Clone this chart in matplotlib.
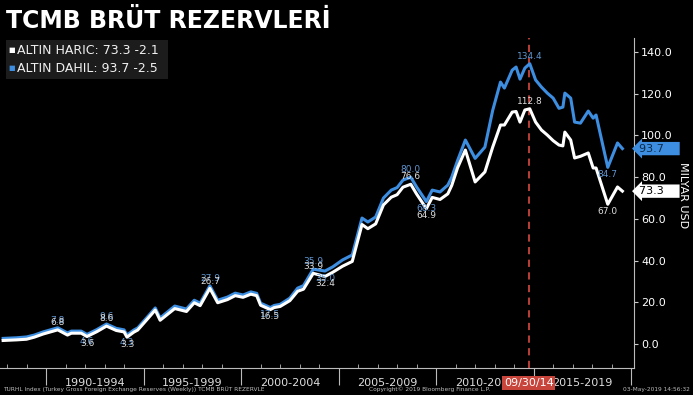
import matplotlib.pyplot as plt
from matplotlib.patches import Rectangle

# Veriler (milyar USD)
years = [1987.8, 1988.5, 1989.0, 1989.4, 1989.85, 1990.6, 1991.1, 1991.3, 1991.8, 1992.1,
         1992.6, 1993.1, 1993.6, 1994.0, 1994.15, 1994.5, 1994.7, 1995.2, 1995.6, 1995.85,
         1996.6, 1997.2, 1997.6, 1997.9, 1998.4, 1998.8, 1999.3, 1999.7, 2000.1, 2000.5,
         2000.8, 2001.0, 2001.5, 2001.7, 2002.0, 2002.5, 2002.9, 2003.2, 2003.7, 2004.3,
         2004.7, 2005.2, 2005.7, 2006.2, 2006.5, 2006.9, 2007.3, 2007.7, 2008.0, 2008.3,
         2008.7, 2009.0, 2009.5, 2009.8, 2010.2, 2010.6, 2010.8, 2011.1, 2011.5, 2012.0,
         2012.5, 2012.9, 2013.3, 2013.5, 2013.9, 2014.1, 2014.3, 2014.55, 2014.8, 2015.1,
         2015.4, 2015.7, 2016.0, 2016.3, 2016.5, 2016.6, 2016.9, 2017.1, 2017.4, 2017.8,
         2018.05, 2018.2, 2018.8, 2019.3, 2019.55]
altin_dahil = [2.7, 3.0, 3.4, 4.3, 5.8, 7.8, 5.3, 6.2, 6.2, 4.6,
               6.9, 9.6, 7.5, 6.8, 4.3, 6.7, 7.7, 13.0, 17.3, 12.5,
               18.2, 16.8, 21.0, 19.6, 27.9, 21.0, 22.5, 24.4, 23.5, 25.0,
               24.3, 19.6, 17.5, 18.5, 19.0, 22.0, 26.8, 28.0, 35.9, 35.0,
               37.0, 40.3, 42.7, 60.4, 58.5, 60.9, 70.0, 73.8, 75.0, 78.6,
               80.0, 75.3, 68.3, 73.8, 72.9, 76.2, 80.0, 88.0, 97.8, 89.0,
               94.4, 112.0, 125.6, 122.7, 131.3, 132.8, 127.0, 132.3, 134.4, 126.6,
               123.2, 120.3, 117.9, 113.0, 113.6, 120.3, 117.9, 106.4, 105.9, 111.7,
               108.3, 109.8, 84.7, 96.4, 93.7]
altin_haric = [1.7, 2.0, 2.3, 3.3, 4.8, 6.8, 4.3, 5.2, 5.2, 3.6,
               5.9, 8.6, 6.5, 5.8, 3.3, 5.7, 6.7, 12.0, 16.3, 11.4,
               17.0, 15.6, 19.8, 18.4, 26.7, 19.8, 21.3, 23.2, 22.4, 23.9,
               23.2, 18.6, 16.5, 17.5, 18.0, 20.8, 25.3, 26.3, 33.9, 32.4,
               34.4, 37.3, 39.6, 57.3, 55.3, 57.6, 66.7, 70.4, 71.6, 75.2,
               76.6, 71.9, 64.9, 70.3, 69.3, 72.0, 76.0, 84.5, 93.0, 77.7,
               82.5, 94.4, 105.0, 105.0, 111.2, 111.5, 106.4, 112.2, 112.8, 106.4,
               102.6, 100.2, 97.5, 95.4, 95.0, 101.6, 97.8, 89.2, 90.0, 91.6,
               84.4, 84.4, 67.0, 75.3, 73.3]

# Etiketlenen tepe/dip noktaları: (yıl, değer, yukarı mı)
etiket_dahil = [(1990.6, 7.8, True), (1992.1, 4.6, False), (1993.1, 9.6, True),
                (1994.15, 4.3, False), (1998.4, 27.9, True), (2001.5, 17.5, False),
                (2003.7, 35.9, True), (2004.3, 35.0, False), (2008.7, 80.0, True),
                (2009.5, 68.3, False), (2014.8, 134.4, True), (2018.8, 84.7, False)]
etiket_haric = [(1990.6, 6.8, True), (1992.1, 3.6, False), (1993.1, 8.6, True),
                (1994.15, 3.3, False), (1998.4, 26.7, True), (2001.5, 16.5, False),
                (2003.7, 33.9, True), (2004.3, 32.4, False), (2008.7, 76.6, True),
                (2009.5, 64.9, False), (2014.8, 112.8, True), (2018.8, 67.0, False)]

periods = ['1990-1994', '1995-1999', '2000-2004', '2005-2009', '2010-2014', '2015-2019']
period_starts = [1990, 1995, 2000, 2005, 2010, 2015]
yticks = [0, 20, 40, 60, 80, 100, 120, 140]

mavi = '#3d8ee0'
beyaz = '#ffffff'
kirmizi = '#c8453c'

fig = plt.figure(figsize=(6.93, 3.95), dpi=100, facecolor='black')
ax = fig.add_axes([0.0, 0.0683, 0.915, 0.8354], facecolor='black')

ax.plot(years, altin_dahil, color=mavi, lw=2.2, zorder=3)
ax.plot(years, altin_haric, color=beyaz, lw=2.2, zorder=4)

for x, v, up in etiket_dahil:
    ax.annotate(f'{v:.1f}', (x, v), xytext=(0, 2 if up else -2), textcoords='offset points',
                ha='center', va='bottom' if up else 'top', fontsize=6.5, color='#5f95d0', zorder=5)
for x, v, up in etiket_haric:
    ax.annotate(f'{v:.1f}', (x, v), xytext=(0, 2 if up else -2), textcoords='offset points',
                ha='center', va='bottom' if up else 'top', fontsize=6.5, color='#dddddd', zorder=6)

# 09/30/14 dikey çizgi
ax.axvline(2014.75, color=kirmizi, ls=(0, (4, 3)), lw=1.3, zorder=2)

ax.set_xlim(1987.64, 2020.15)
ax.set_ylim(-11.5, 146.7)

for s in ['left', 'top']:
    ax.spines[s].set_visible(False)
for s in ['right', 'bottom']:
    ax.spines[s].set_color('#bbbbbb')
    ax.spines[s].set_linewidth(0.8)

ax.yaxis.tick_right()
ax.set_yticks(yticks)
ax.set_yticklabels([f'{t:.1f}' for t in yticks], color='white', fontsize=8)
ax.tick_params(axis='y', colors='#cccccc', length=3, labelcolor='white', pad=2)

ax.set_xticks(period_starts + [2020])
ax.set_xticklabels([])
ax.set_xticks(range(1988, 2021), minor=True)
ax.tick_params(axis='x', which='major', colors='#bbbbbb', length=12, direction='out')
ax.tick_params(axis='x', which='minor', colors='#bbbbbb', length=3, direction='in')

for start, lab in zip(period_starts, periods):
    ax.text(start + 2.5, -0.045, lab, transform=ax.get_xaxis_transform(),
            ha='center', va='center', fontsize=8, color='#dddddd')
ax.text(2014.75, -0.045, '09/30/14', transform=ax.get_xaxis_transform(),
        ha='center', va='center', fontsize=8, color='white', zorder=10,
        bbox=dict(boxstyle='square,pad=0.15', fc=kirmizi, ec='none'))

# son değer etiketleri
ax.text(1.008, altin_dahil[-1], f'{altin_dahil[-1]:.1f}    ', transform=ax.get_yaxis_transform(),
        ha='left', va='center', fontsize=8, color='#0a2a4a', clip_on=False,
        bbox=dict(boxstyle='larrow,pad=0.15', fc=mavi, ec='none'))
ax.text(1.008, altin_haric[-1], f'{altin_haric[-1]:.1f}    ', transform=ax.get_yaxis_transform(),
        ha='left', va='center', fontsize=8, color='black', clip_on=False,
        bbox=dict(boxstyle='larrow,pad=0.15', fc='white', ec='none'))

fig.text(0.985, 0.505, 'MILYAR USD', rotation=270, ha='center', va='center', fontsize=8, color='white')

# başlık ve gösterge
fig.text(0.008, 0.948, 'TCMB BRÜT REZERVLERİ', fontsize=17, fontweight='bold', color='white', va='center')
fig.patches.append(Rectangle((0.008, 0.8), 0.235, 0.1, transform=fig.transFigure,
                             fc='#1c1c1c', ec='none', zorder=0))
fig.text(0.012, 0.873, '■', fontsize=5, color='white', va='center')
fig.text(0.024, 0.873, 'ALTIN HARIC: 73.3 -2.1', fontsize=9, color='#f0f0f0', va='center')
fig.text(0.012, 0.827, '■', fontsize=5, color=mavi, va='center')
fig.text(0.024, 0.827, 'ALTIN DAHIL: 93.7 -2.5', fontsize=9, color='#f0f0f0', va='center')

# alt bilgi
fig.text(0.004, 0.015, 'TURHL Index (Turkey Gross Foreign Exchange Reserves (Weekly)) TCMB BRÜT REZERVLE',
         fontsize=4.2, color='#bbbbbb', va='center')
fig.text(0.62, 0.015, 'Copyright© 2019 Bloomberg Finance L.P.', fontsize=4.2, color='#bbbbbb',
         ha='center', va='center')
fig.text(0.995, 0.015, '03-May-2019 14:56:32', fontsize=4.2, color='#bbbbbb', ha='right', va='center')

fig.savefig('out.png', dpi=100, facecolor='black')
